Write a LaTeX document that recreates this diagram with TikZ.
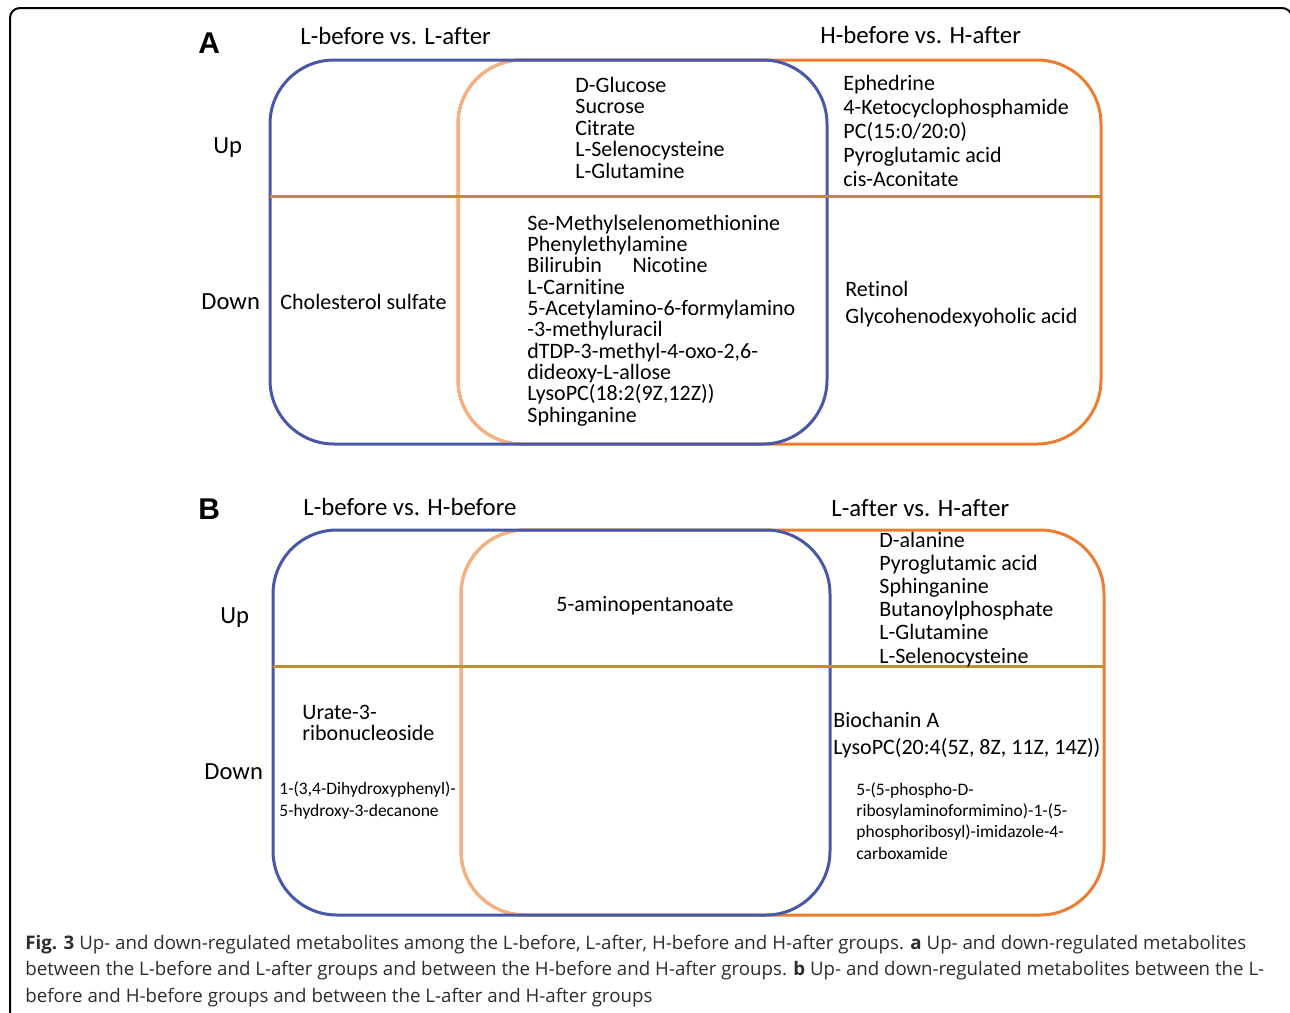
\documentclass[tikz,border=0pt]{standalone}
\usepackage{fontspec}
\setmainfont{Carlito}[Ligatures=NoCommon]
\newfontfamily\capfont{Open Sans}
\newfontfamily\letterfont{Liberation Sans}
\definecolor{vennblue}{RGB}{72,88,168}
\definecolor{venndark}{RGB}{237,125,49}
\definecolor{vennpeach}{RGB}{244,177,131}
\definecolor{vennline}{RGB}{191,143,48}
\definecolor{captext}{RGB}{45,45,45}
\tikzset{
  bluebox/.style={draw=vennblue, line width=1.5pt, rounded corners=32pt},
  orangebox/.style={draw=venndark, line width=1.5pt, rounded corners=32pt},
  peachbox/.style={draw=vennpeach, line width=1.5pt, rounded corners=32pt},
  divider/.style={draw=vennline, line width=1.5pt},
  panel/.style={font=\letterfont\bfseries\fontsize{15}{15}\selectfont, anchor=base west, inner sep=0pt},
  heading/.style={font=\fontsize{12.4}{14}\selectfont, anchor=base west, inner sep=0pt},
  rowlabel/.style={font=\fontsize{12.3}{14}\selectfont, anchor=base west, inner sep=0pt},
  item/.style={font=\fontsize{11}{10.75}\selectfont, anchor=base west, inner sep=0pt, align=left},
  smallitem/.style={font=\fontsize{8.75}{10.65}\selectfont, anchor=base west, inner sep=0pt, align=left},
  caption/.style={font=\capfont\fontsize{9.35}{13.25}\selectfont, text=captext, anchor=base west, inner sep=0pt, align=left}
}
\begin{document}
\begin{tikzpicture}[x=0.5pt, y=-0.5pt]
    \useasboundingbox (0,0) rectangle (1290,1012);
    \draw[line width=1pt, rounded corners=5pt] (10,8) rectangle (1292,1040);

    \draw[orangebox] (458,60) rectangle (1101,444);
    \begin{scope}
        \clip (400,0) rectangle (640,1012);
        \draw[peachbox] (458,60) rectangle (1101,444);
    \end{scope}
    \draw[bluebox] (270,60) rectangle (827,444);
    \draw[divider] (270,196) -- (1101,196);

    \node[panel] (A) at (198,54) {A};
    \node[heading] (LA) at (300,44) {L-before vs. L-after};
    \node[heading] (HA) at (820,43) {H-before vs. H-after};
    \node[rowlabel] (UpA) at (213,153) {Up};
    \node[rowlabel] (DownA) at (201,309) {Down};
    \node[item] (UA1) at (575,178) {D-Glucose\\Sucrose\\Citrate\\L-Selenocysteine\\L-Glutamine};
    \node[item, font=\fontsize{11}{12}\selectfont] (UA2) at (843,186) {Ephedrine\\4-Ketocyclophosphamide\\PC(15:0/20:0)\\Pyroglutamic acid\\cis-Aconitate};
    \node[item] (DA0) at (280,309) {Cholesterol sulfate};
    \node[item, font=\fontsize{11}{10.65}\selectfont] (DA1) at (527,422) {Se-Methylselenomethionine\\Phenylethylamine\\Bilirubin\hspace{1.4em}Nicotine\\L-Carnitine\\5-Acetylamino-6-formylamino\\-3-methyluracil\\dTDP-3-methyl-4-oxo-2,6-\\dideoxy-L-allose\\LysoPC(18:2(9Z,12Z))\\Sphinganine};
    \node[item, font=\fontsize{11}{13.5}\selectfont] (DA2) at (845,323) {Retinol\\Glycohenodexyoholic acid};

    \draw[orangebox] (461,530) rectangle (1104,915);
    \begin{scope}
        \clip (400,480) rectangle (640,1012);
        \draw[peachbox] (461,530) rectangle (1104,915);
    \end{scope}
    \draw[bluebox] (273,530) rectangle (830,915);
    \draw[divider] (273,666) -- (1104,666);

    \node[panel] (B) at (198,519) {B};
    \node[heading] (LB) at (303,515) {L-before vs. H-before};
    \node[heading] (HB) at (831,516) {L-after vs. H-after};
    \node[rowlabel] (UpB) at (220,623) {Up};
    \node[rowlabel] (DownB) at (204,779) {Down};
    \node[item] (UB1) at (556,611) {5-aminopentanoate};
    \node[item, font=\fontsize{11}{11.6}\selectfont] (UB2) at (879,663) {D-alanine\\Pyroglutamic acid\\Sphinganine\\Butanoylphosphate\\L-Glutamine\\L-Selenocysteine};
    \node[item, font=\fontsize{11}{10.5}\selectfont] (DB0) at (302,740) {Urate-3-\\ribonucleoside};
    \node[smallitem] (DB1) at (279,816) {1-(3,4-Dihydroxyphenyl)-\\5-hydroxy-3-decanone};
    \node[item, font=\fontsize{11}{13.5}\selectfont] (DB2) at (833,754) {Biochanin A\\LysoPC(20:4(5Z, 8Z, 11Z, 14Z))};
    \node[smallitem] (DB3) at (856,859) {5-(5-phospho-D-\\ribosylaminoformimino)-1-(5-\\phosphoribosyl)-imidazole-4-\\carboxamide};

    \node[caption] (CAP) at (25,1002) {\textbf{Fig. 3} Up- and down-regulated metabolites among the L-before, L-after, H-before and H-after groups. \textbf{a} Up- and down-regulated metabolites\\between the L-before and L-after groups and between the H-before and H-after groups. \textbf{b} Up- and down-regulated metabolites between the L-\\before and H-before groups and between the L-after and H-after groups};
\end{tikzpicture}
\end{document}
